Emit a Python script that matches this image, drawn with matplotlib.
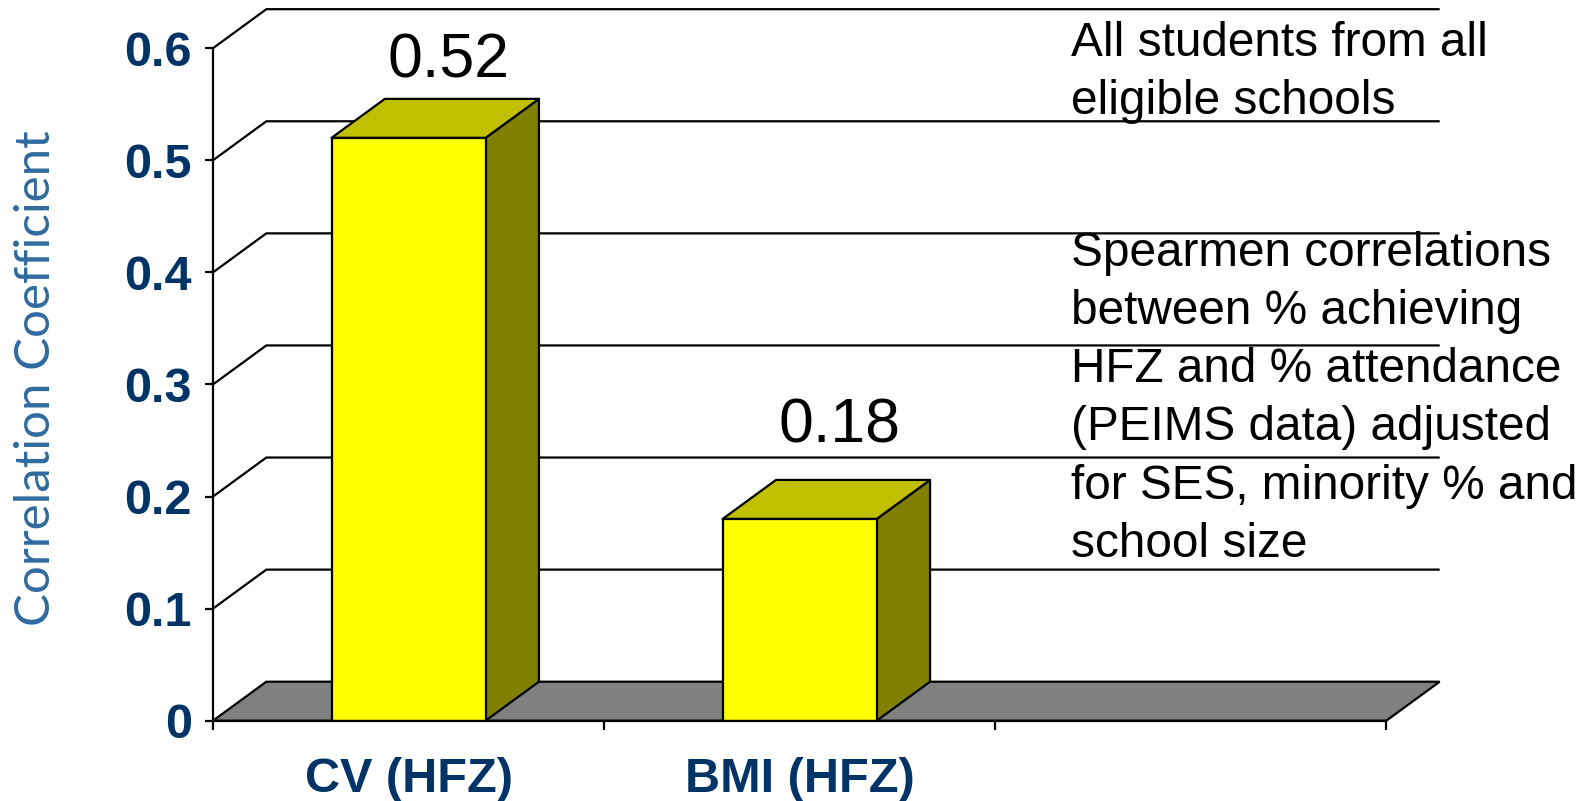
import matplotlib
matplotlib.use("Agg")
import matplotlib.pyplot as plt
from matplotlib.patches import Polygon

# correlation of % achieving HFZ with % attendance
CATEGORIES = ["CV (HFZ)", "BMI (HFZ)", ""]
VALUES = [0.52, 0.18]
Y_TICKS = [0, 0.1, 0.2, 0.3, 0.4, 0.5, 0.6]
NOTE_TOP = "All students from all\neligible schools"
NOTE_MID = ("Spearmen correlations\nbetween % achieving\nHFZ and % attendance\n"
            "(PEIMS data) adjusted\nfor SES, minority % and\nschool size")

NAVY = "#003366"
FRONT, TOP, SIDE, FLOOR = "#FFFF00", "#C0C000", "#808000", "#808080"
DX, DY = 0.1364, 0.0348      # oblique depth of the 3-D box (data units)
BAR_W = 0.394
LABEL_LIFT = [0.054, 0.068]

plt.rcParams["font.family"] = ["Liberation Sans", "DejaVu Sans"]

fig = plt.figure(figsize=(15.93, 8.01), dpi=100)
ax = fig.add_axes([213 / 1593, 80.3 / 801, 1232 / 1593, 720.7 / 801])
ax.set_xlim(0, 3.15)
ax.set_ylim(0, 0.643)

ncat = len(CATEGORIES)
lw = 1.6

# back wall gridlines, bent along the left wall
for v in Y_TICKS[1:]:
    ax.plot([0, DX, ncat + DX], [v, v + DY, v + DY], color="black", lw=lw,
            clip_on=False, zorder=1, solid_capstyle="butt")

# floor
ax.add_patch(Polygon([(0, 0), (ncat, 0), (ncat + DX, DY), (DX, DY)],
                     closed=True, facecolor=FLOOR, edgecolor="black", lw=lw,
                     zorder=2, clip_on=False))

# bars as 3-D boxes
for i, v in enumerate(VALUES):
    x0 = i + 0.5 - BAR_W / 2
    x1 = x0 + BAR_W
    ax.add_patch(Polygon([(x1, 0), (x1 + DX, DY), (x1 + DX, v + DY), (x1, v)],
                         facecolor=SIDE, edgecolor="black", lw=lw, zorder=3,
                         joinstyle="round"))
    ax.add_patch(Polygon([(x0, v), (x1, v), (x1 + DX, v + DY), (x0 + DX, v + DY)],
                         facecolor=TOP, edgecolor="black", lw=lw, zorder=3,
                         joinstyle="round"))
    ax.add_patch(Polygon([(x0, 0), (x1, 0), (x1, v), (x0, v)],
                         facecolor=FRONT, edgecolor="black", lw=lw, zorder=4,
                         joinstyle="round"))
    ax.text(i + 0.5 + 0.102, v + LABEL_LIFT[i], f"{v:.2f}", ha="center",
            va="baseline", fontsize=45, color="black", zorder=5)

# axes
for s in ["top", "right"]:
    ax.spines[s].set_visible(False)
ax.spines["left"].set_bounds(0, 0.6)
ax.spines["bottom"].set_bounds(0, ncat)
for s in ["left", "bottom"]:
    ax.spines[s].set_linewidth(lw)
    ax.spines[s].set_zorder(6)

ax.set_yticks(Y_TICKS)
ax.set_yticklabels([f"{t:g}" for t in Y_TICKS])
ax.tick_params(axis="y", direction="out", length=5.8, width=lw, pad=9.5,
               labelsize=35, labelcolor=NAVY)
for lab in ax.get_yticklabels():
    lab.set_fontweight("bold")

ax.set_xticks(range(ncat + 1))
ax.set_xticklabels([])
ax.set_xticks([i + 0.5 for i in range(ncat)], minor=True)
ax.set_xticklabels(CATEGORIES, minor=True, fontsize=35, fontweight="bold",
                   color=NAVY)
ax.tick_params(axis="x", which="major", direction="out", length=6.5, width=lw)
ax.tick_params(axis="x", which="minor", length=0, pad=26)

fig.text(36 / 1593, 1 - 378.5 / 801, "Correlation Coefficient", rotation=90,
         ha="center", va="center", fontsize=35.5, color="#2F6A9E",
         family=["Lato", "DejaVu Sans"])

# notes: y is the baseline of each block's last line
fig.text(1071 / 1593, 1 - 114.2 / 801, NOTE_TOP, ha="left", va="baseline",
         fontsize=34.4, linespacing=1.38)
fig.text(1071 / 1593, 1 - 557 / 801, NOTE_MID, ha="left", va="baseline",
         fontsize=34.4, linespacing=1.38)

fig.savefig("out.png", dpi=100)
